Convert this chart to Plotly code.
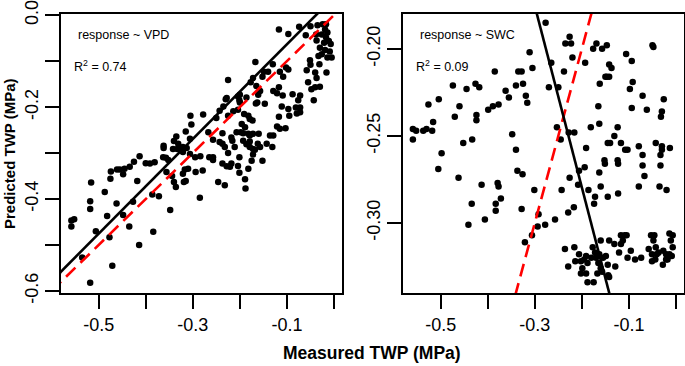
import plotly.graph_objects as go

# ---------------- data ----------------
vpd_measured = [
    -0.117, -0.097, -0.074, -0.060, -0.050, -0.035, -0.024, -0.017, -0.019, -0.014,
    -0.038, -0.026, -0.017, -0.011, -0.007, -0.021, -0.037, -0.030, -0.019, -0.009,
    -0.005, -0.014, -0.026, -0.033, -0.051, -0.050, -0.058, -0.040, -0.031, -0.016,
    -0.037, -0.055, -0.030, -0.048, -0.040, -0.043, -0.102, -0.097, -0.115, -0.108,
    -0.117, -0.130, -0.140, -0.149, -0.167, -0.152, -0.172, -0.177, -0.165, -0.157,
    -0.161, -0.186, -0.200, -0.201, -0.147, -0.166, -0.225, -0.230, -0.243, -0.235,
    -0.278, -0.305, -0.303, -0.315, -0.306, -0.335, -0.333, -0.362, -0.362, -0.357,
    -0.352, -0.342, -0.340, -0.321, -0.313, -0.381, -0.391, -0.400, -0.413, -0.425,
    -0.434, -0.445, -0.455, -0.461, -0.474, -0.475, -0.448, -0.418, -0.516, -0.487,
    -0.518, -0.518, -0.462, -0.482, -0.448, -0.427, -0.558, -0.552, -0.558, -0.506,
    -0.477, -0.435, -0.414, -0.384, -0.535, -0.471, -0.518, -0.386, -0.372, -0.356,
    -0.344, -0.340, -0.336, -0.319, -0.315, -0.348, -0.285, -0.294, -0.279, -0.284,
    -0.310, -0.257, -0.246, -0.232, -0.237, -0.228, -0.221, -0.218, -0.237, -0.243,
    -0.257, -0.232, -0.225, -0.216, -0.211, -0.218, -0.207, -0.201, -0.201, -0.189,
    -0.188, -0.182, -0.175, -0.172, -0.168, -0.157, -0.152, -0.143, -0.131, -0.129,
    -0.121, -0.103, -0.117, -0.095, -0.097, -0.081, -0.072, -0.072, -0.079, -0.088,
    -0.072, -0.076, -0.196, -0.189, -0.193, -0.182, -0.179, -0.172, -0.191, -0.182,
    -0.179, -0.173, -0.200, -0.204, -0.163, -0.228, -0.214, -0.204, -0.250, -0.267,
    -0.265, -0.328, -0.321, -0.321, -0.204, -0.179, -0.172, -0.162, -0.186, -0.225,
    -0.237, -0.136, -0.115, -0.111, -0.129, -0.121, -0.109, -0.363, -0.306, -0.331,
    -0.317, -0.295, -0.257, -0.198, -0.160, -0.193, -0.179,
]
vpd_predicted = [
    -0.031, -0.041, -0.025, -0.044, -0.024, -0.022, -0.020, -0.020, -0.031, -0.038,
    -0.042, -0.042, -0.048, -0.056, -0.063, -0.060, -0.055, -0.071, -0.076, -0.079,
    -0.092, -0.092, -0.085, -0.089, -0.098, -0.108, -0.120, -0.125, -0.107, -0.125,
    -0.137, -0.146, -0.156, -0.161, -0.157, -0.185, -0.114, -0.118, -0.123, -0.134,
    -0.157, -0.107, -0.123, -0.123, -0.102, -0.134, -0.137, -0.146, -0.154, -0.165,
    -0.173, -0.179, -0.173, -0.185, -0.193, -0.192, -0.141, -0.183, -0.208, -0.199,
    -0.216, -0.219, -0.238, -0.253, -0.269, -0.264, -0.291, -0.284, -0.289, -0.310,
    -0.315, -0.291, -0.274, -0.287, -0.289, -0.320, -0.323, -0.322, -0.307, -0.319,
    -0.330, -0.334, -0.336, -0.336, -0.340, -0.356, -0.346, -0.361, -0.364, -0.385,
    -0.405, -0.422, -0.410, -0.437, -0.435, -0.406, -0.447, -0.444, -0.460, -0.470,
    -0.483, -0.460, -0.500, -0.471, -0.527, -0.545, -0.582, -0.390, -0.394, -0.341,
    -0.350, -0.363, -0.374, -0.363, -0.361, -0.424, -0.397, -0.341, -0.338, -0.307,
    -0.334, -0.309, -0.363, -0.370, -0.323, -0.329, -0.330, -0.323, -0.280, -0.276,
    -0.271, -0.287, -0.300, -0.273, -0.287, -0.266, -0.255, -0.309, -0.343, -0.357,
    -0.377, -0.334, -0.317, -0.303, -0.293, -0.287, -0.317, -0.280, -0.287, -0.262,
    -0.242, -0.246, -0.221, -0.219, -0.204, -0.201, -0.201, -0.211, -0.214, -0.172,
    -0.175, -0.185, -0.237, -0.244, -0.257, -0.258, -0.262, -0.258, -0.215, -0.219,
    -0.226, -0.229, -0.190, -0.177, -0.190, -0.180, -0.209, -0.206, -0.224, -0.255,
    -0.309, -0.291, -0.298, -0.345, -0.328, -0.287, -0.291, -0.280, -0.281, -0.219,
    -0.257, -0.262, -0.247, -0.199, -0.165, -0.170, -0.175, -0.309, -0.302, -0.280,
    -0.336, -0.309, -0.315, -0.255, -0.258, -0.273, -0.275,
]

swc_measured = [
    -0.559, -0.552, -0.559, -0.537, -0.530, -0.518, -0.516, -0.526, -0.504, -0.498,
    -0.505, -0.474, -0.470, -0.460, -0.445, -0.426, -0.418, -0.424, -0.424, -0.433,
    -0.452, -0.462, -0.413, -0.434, -0.441, -0.406, -0.399, -0.389, -0.377, -0.385,
    -0.362, -0.355, -0.340, -0.335, -0.328, -0.325, -0.319, -0.316, -0.311, -0.305,
    -0.348, -0.340, -0.337, -0.326, -0.379, -0.377, -0.372, -0.383, -0.383, -0.328,
    -0.301, -0.321, -0.306, -0.294, -0.292, -0.278, -0.257, -0.277, -0.265, -0.270,
    -0.250, -0.253, -0.245, -0.238, -0.235, -0.226, -0.223, -0.220, -0.228, -0.216,
    -0.226, -0.208, -0.243, -0.229, -0.217, -0.206, -0.194, -0.191, -0.193, -0.186,
    -0.176, -0.169, -0.157, -0.147, -0.142, -0.137, -0.147, -0.150, -0.142, -0.162,
    -0.165, -0.163, -0.181, -0.172, -0.174, -0.163, -0.160, -0.152, -0.151, -0.145,
    -0.123, -0.124, -0.123, -0.145, -0.140, -0.131, -0.124, -0.117, -0.108, -0.103,
    -0.106, -0.094, -0.092, -0.098, -0.094, -0.071, -0.062, -0.050, -0.048, -0.030,
    -0.032, -0.026, -0.079, -0.071, -0.071, -0.067, -0.079, -0.043, -0.030, -0.030,
    -0.013, -0.033, -0.033, -0.035, -0.020,
    -0.236, -0.216, -0.229, -0.206, -0.202, -0.199, -0.202, -0.191, -0.195, -0.188,
    -0.191, -0.188, -0.175, -0.177, -0.172, -0.170, -0.163, -0.165, -0.167, -0.160,
    -0.157, -0.155, -0.149, -0.145, -0.142, -0.131, -0.129, -0.142, -0.121, -0.117,
    -0.113, -0.109, -0.105, -0.103, -0.096, -0.087, -0.074, -0.058, -0.053, -0.046,
    -0.048, -0.051, -0.051, -0.043, -0.041, -0.037, -0.044, -0.028, -0.021, -0.014,
    -0.011, -0.007, -0.014, -0.009, -0.021, -0.027, -0.007, -0.214, -0.180, -0.160,
    -0.144, -0.117, -0.018,
]
swc_predicted = [
    -0.246, -0.247, -0.252, -0.247, -0.246, -0.247, -0.242, -0.232, -0.229, -0.260,
    -0.269, -0.221, -0.239, -0.233, -0.223, -0.220, -0.222, -0.238, -0.241, -0.252,
    -0.254, -0.274, -0.278, -0.289, -0.301, -0.298, -0.235, -0.233, -0.232, -0.213,
    -0.224, -0.228, -0.221, -0.213, -0.213, -0.220, -0.227, -0.231, -0.202, -0.211,
    -0.249, -0.258, -0.270, -0.272, -0.277, -0.279, -0.286, -0.289, -0.293, -0.292,
    -0.281, -0.311, -0.307, -0.302, -0.295, -0.301, -0.298, -0.185, -0.208, -0.222,
    -0.222, -0.245, -0.252, -0.213, -0.197, -0.193, -0.197, -0.205, -0.248, -0.248,
    -0.274, -0.278, -0.281, -0.294, -0.291, -0.270, -0.268, -0.257, -0.208, -0.281,
    -0.200, -0.197, -0.200, -0.198, -0.209, -0.211, -0.216, -0.216, -0.216, -0.220,
    -0.233, -0.243, -0.245, -0.285, -0.289, -0.271, -0.279, -0.264, -0.266, -0.285,
    -0.283, -0.264, -0.266, -0.254, -0.254, -0.250, -0.245, -0.254, -0.258, -0.258,
    -0.203, -0.207, -0.219, -0.223, -0.234, -0.227, -0.235, -0.198, -0.199, -0.236,
    -0.239, -0.229, -0.256, -0.261, -0.267, -0.273, -0.279, -0.254, -0.256, -0.258,
    -0.257, -0.261, -0.267, -0.279, -0.281,
    -0.315, -0.314, -0.325, -0.318, -0.322, -0.326, -0.329, -0.319, -0.321, -0.323,
    -0.329, -0.334, -0.334, -0.314, -0.317, -0.320, -0.318, -0.323, -0.329, -0.326,
    -0.328, -0.320, -0.319, -0.324, -0.310, -0.312, -0.325, -0.331, -0.317, -0.307,
    -0.310, -0.307, -0.307, -0.320, -0.316, -0.321, -0.320, -0.315, -0.307, -0.307,
    -0.310, -0.318, -0.322, -0.314, -0.318, -0.317, -0.321, -0.324, -0.318, -0.306,
    -0.310, -0.314, -0.318, -0.319, -0.321, -0.316, -0.307, -0.322, -0.320, -0.310,
    -0.330, -0.312, -0.321,
]

# fitted regression lines (slope, intercept) and R^2 values
vpd_fit_slope, vpd_fit_intercept = 1.030, 0.0395
swc_fit_slope, swc_fit_intercept = -1.042, -0.488
r2_vpd = "0.74"
r2_swc = "0.09"
labels_vpd = "response ~ VPD"
labels_swc = "response ~ SWC"

x_ticks = [-0.5, -0.4, -0.3, -0.2, -0.1, 0.0]
x_tick_text = ["-0.5", "", "-0.3", "", "-0.1", ""]
vpd_y_ticks = [0.0, -0.1, -0.2, -0.3, -0.4, -0.5, -0.6]
vpd_y_text = ["0.0", "", "-0.2", "", "-0.4", "", "-0.6"]
swc_y_ticks = [-0.20, -0.25, -0.30]
swc_y_text = ["-0.20", "-0.25", "-0.30"]

x_range = [-0.580, 0.017]
vpd_y_range = [-0.6045, 0.0025]
swc_y_range = [-0.3402, -0.180]

# ---------------- figure ----------------
W, H = 685, 366


def px(v):
    return v / W


def py(v):
    return 1 - v / H


FONT = "Liberation Sans, Arial, sans-serif"
fig = go.Figure()

line_x = [x_range[0] - 0.05, x_range[1] + 0.05]

# left panel
fig.add_trace(go.Scatter(x=vpd_measured, y=vpd_predicted, mode="markers",
                         marker=dict(color="black", size=6.5), xaxis="x", yaxis="y",
                         showlegend=False, hoverinfo="skip"))
fig.add_trace(go.Scatter(x=line_x, y=line_x, mode="lines",
                         line=dict(color="#FF0000", width=2.6, dash="13px,7px"),
                         xaxis="x", yaxis="y", showlegend=False, hoverinfo="skip"))
fig.add_trace(go.Scatter(x=line_x, y=[vpd_fit_slope * v + vpd_fit_intercept for v in line_x],
                         mode="lines", line=dict(color="black", width=2.6),
                         xaxis="x", yaxis="y", showlegend=False, hoverinfo="skip"))

# right panel
fig.add_trace(go.Scatter(x=swc_measured, y=swc_predicted, mode="markers",
                         marker=dict(color="black", size=6.5), xaxis="x2", yaxis="y2",
                         showlegend=False, hoverinfo="skip"))
fig.add_trace(go.Scatter(x=line_x, y=line_x, mode="lines",
                         line=dict(color="#FF0000", width=2.6, dash="13px,7px"),
                         xaxis="x2", yaxis="y2", showlegend=False, hoverinfo="skip"))
fig.add_trace(go.Scatter(x=line_x, y=[swc_fit_slope * v + swc_fit_intercept for v in line_x],
                         mode="lines", line=dict(color="black", width=2.6),
                         xaxis="x2", yaxis="y2", showlegend=False, hoverinfo="skip"))

axis_common = dict(showline=True, mirror=True, linecolor="black", linewidth=2,
                   ticks="outside", ticklen=14, tickwidth=1.6, tickcolor="black",
                   showgrid=False, zeroline=False, automargin=False,
                   ticklabeloverflow="allow",
                   tickfont=dict(family=FONT, size=18, color="black"))

ydom = [py(293), py(14)]
fig.update_layout(
    width=W, height=H,
    margin=dict(l=0, r=0, t=0, b=0),
    paper_bgcolor="white", plot_bgcolor="white",
    xaxis=dict(domain=[px(61), px(342)], range=x_range, anchor="y",
               tickvals=x_ticks, ticktext=x_tick_text, **axis_common),
    yaxis=dict(domain=ydom, range=vpd_y_range, anchor="x",
               tickvals=vpd_y_ticks, ticktext=vpd_y_text, tickangle=-90, **axis_common),
    xaxis2=dict(domain=[px(403), px(684)], range=x_range, anchor="y2",
                tickvals=x_ticks, ticktext=x_tick_text, **axis_common),
    yaxis2=dict(domain=ydom, range=swc_y_range, anchor="x2",
                tickvals=swc_y_ticks, ticktext=swc_y_text, tickangle=-90, **axis_common),
)

ann_font = dict(family=FONT, size=12.5, color="black")
for xr, yr, label, r2 in [("x domain", "y domain", labels_vpd, r2_vpd),
                          ("x2 domain", "y2 domain", labels_swc, r2_swc)]:
    fig.add_annotation(x=0.053, y=0.925, xref=xr, yref=yr, text=label, showarrow=False,
                       xanchor="left", yanchor="middle", font=ann_font)
    fig.add_annotation(x=0.040, y=0.814, xref=xr, yref=yr,
                       text="R<sup>2</sup> = " + r2, showarrow=False,
                       xanchor="left", yanchor="middle", font=ann_font)

fig.add_annotation(x=px(372.5), y=py(353), xref="paper", yref="paper",
                   text="<b>Measured TWP (MPa)</b>", showarrow=False,
                   xanchor="center", yanchor="middle",
                   font=dict(family=FONT, size=17.5, color="black"))
fig.add_annotation(x=px(9), y=py(154), xref="paper", yref="paper",
                   text="<b>Predicted TWP (MPa)</b>", showarrow=False, textangle=-90,
                   xanchor="center", yanchor="middle",
                   font=dict(family=FONT, size=15, color="black"))

# remove the browser's default 8px page margin so the figure fills the window
fig.write_html("out.html", config={"displayModeBar": False},
               post_script="document.body.style.margin = '0px';")
